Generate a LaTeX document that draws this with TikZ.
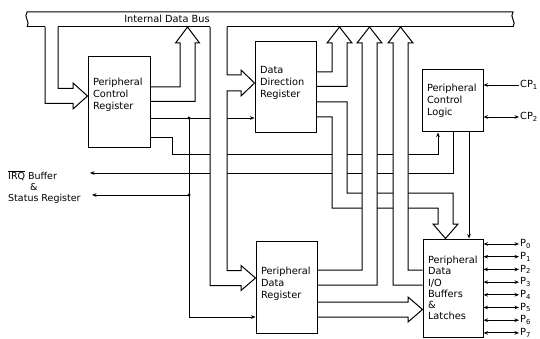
\documentclass[tikz,border=0pt]{standalone}
\usepackage{fontspec}
\setmainfont{DejaVu Sans}
\usetikzlibrary{arrows.meta, backgrounds}

\begin{document}
\begin{tikzpicture}[
    x=1pt, y=-1pt,
    every node/.style={font=\fontsize{9.8}{11.8}\selectfont},
    reg/.style={draw, line width=1pt, align=left, inner xsep=5pt, inner ysep=2pt},
    chan/.style={draw, fill=white, line width=1pt},
    sig/.style={line width=0.9pt},
    pin/.style={anchor=west, inner sep=1pt},
    >={Stealth[length=4.5pt, width=3.6pt]},
  ]
  \useasboundingbox (0,0) rectangle (540,339);

  % Registers
  \node[reg, minimum width=62pt, minimum height=91pt, text width=52pt, text depth=41.4pt] (pcr) at (119,102.5) {Peripheral\\Control\\Register};
  \node[reg, minimum width=61pt, minimum height=91pt, text width=51pt, text depth=35.2pt] (ddr) at (285.5,87.5) {Data\\Direction\\Register};
  \node[reg, minimum width=61pt, minimum height=62pt, text width=51pt] (pcl) at (452.5,101) {Peripheral\\Control\\Logic};
  \node[reg, minimum width=61pt, minimum height=92pt, text width=51pt, text depth=32.2pt] (pdr) at (286.5,287) {Peripheral\\Data\\Register};
  \node[reg, minimum width=60pt, minimum height=98pt, text width=50pt, font=\fontsize{9.8}{11.2}\selectfont] (pdio) at (453,288) {Peripheral\\Data\\I/O\\Buffers\\\&\\Latches};

  % Internal data bus
  \node (buslabel) at (167,19) {Internal Data Bus};
  \draw[line width=1pt] (27,27) .. controls (31,22) and (23,17) .. (27,12) -- (513,12)
    .. controls (509,17) and (517,22) .. (513,27);
  \draw[line width=1pt] (27,27) -- (45,27) (58,27) -- (210,27) (227,27) -- (513,27);

  % Outside connections
  \node[anchor=north west, align=left, inner sep=0pt, font=\fontsize{9.5}{11}\selectfont] (irq) at (8,170.5)
    {$\overline{\mbox{IRQ}}$ Buffer\\\hspace*{22pt}\&\\Status Register};
  \coordinate (irqa) at (90,173);
  \coordinate (irqb) at (92,195);
  \node[pin] (cp1) at (519,85) {CP\textsubscript{1}};
  \node[pin] (cp2) at (519,117) {CP\textsubscript{2}};
  \draw[sig, ->] (cp1.west) -- (cp1.west -| pcl.east);
  \draw[sig, <->] (cp2.west -| pcl.east) -- (cp2.west);
  \foreach \k in {0,...,7} {
    \node[pin] (p\k) at (519,244+12.7*\k) {P\textsubscript{\k}};
    \draw[sig, <->] (p\k.west -| pdio.east) -- (p\k.west);
  }

  \begin{scope}[on background layer]
    % control lines
    \coordinate (j1) at (189,118);
    \coordinate (j2) at (189,195);
    \draw[sig, ->] (pcr.east |- j1) -- (ddr.west |- j1);
    \draw[sig, ->] (j1) |- (pdr.west |- 0,317);
    \draw[sig, ->] (j2) -- (irqb);
    \draw[sig, ->] (pcr.east |- 0,137) -| (172,154) -| (pcl.south -| 438,0);
    \draw[sig, ->] (pcl.south -| 453,0) |- (irqa);
    \draw[sig, ->] (pcl.south -| 469,0) -- (pdio.north -| 469,0);
    \fill (j1) circle[radius=1.6pt];
    \fill (j2) circle[radius=1.6pt];

    % wide data paths
    \path[chan] (ddr.east |- 0,102) -| (347,193) -| (453,224) -- (458,224) -- (pdio.north -| 445.5,0)
      -- (433,224) -- (438,224) |- (332,208) |- (ddr.east |- 0,117);
    \path[chan] (210,27) |- (241,285.5) -- (241,290.5) -- (pdr.west |- 0,278) -- (241,265.5) -- (241,270.5)
      -| (227,91) -- (241,91) -- (241,96) -- (ddr.west |- 0,83) -- (241,70) -- (241,75) -| (227,27);
    \path[chan] (pdr.east |- 0,270) -| (362,43) -- (357,43) -- (369.5,27) -- (382,43) -- (377,43) |- (pdr.east |- 0,285);
    \path[chan] (pdio.west |- 0,270) -| (408,43) -- (413,43) -- (400.5,27) -- (388,43) -- (393,43) |- (pdio.west |- 0,285);
    \path[chan] (45,27) |- (73,103.5) -- (73,109) -- (pcr.west |- 0,96) -- (73,83) -- (73,88.5) -| (58,27);
    \path[chan] (pcr.east |- 0,87) -| (180,43) -- (175.5,43) -- (187.5,27) -- (199.5,43) -- (195,43) |- (pcr.east |- 0,101.5);
    \path[chan] (ddr.east |- 0,72) -| (332,43) -- (327,43) -- (339.5,27) -- (352,43) -- (347,43) |- (ddr.east |- 0,86.5);
    \path[chan] (pdr.east |- 0,302) -- (408,302) -- (408,297) -- (pdio.west |- 0,309.5) -- (408,322) -- (408,317) -- (pdr.east |- 0,317);
  \end{scope}
\end{tikzpicture}
\end{document}
